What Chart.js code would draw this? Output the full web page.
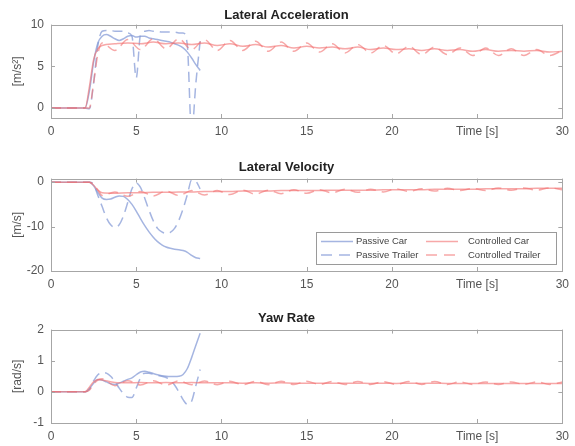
<!DOCTYPE html>
<html>
<head>
<meta charset="utf-8">
<script src="https://cdn.jsdelivr.net/npm/chart.js@4.4.0/dist/chart.umd.min.js"></script>
<style>
  body { margin: 0; background: #fff; }
  #page { position: relative; width: 575px; height: 446px; overflow: hidden; }
  canvas { position: absolute; left: 0; }
</style>
</head>
<body>
<div id="page">
  <canvas id="acc-chart" width="575" height="140" style="top:0px"></canvas>
  <canvas id="vel-chart" width="575" height="139" style="top:154px"></canvas>
  <canvas id="yaw-chart" width="575" height="140" style="top:305px"></canvas>
</div>
<script>
// Data
const xTickValues = [0, 5, 10, 15, 20, 25, 30];
const xTickLabels = ["0", "5", "10", "15", "20", "Time [s]", "30"];

const accTicks = [0, 5, 10];
const velTicks = [-20, -10, 0];
const yawTicks = [-1, 0, 1, 2];

const seriesNames = ["Passive Car", "Passive Trailer", "Controlled Car", "Controlled Trailer"];

// passive runs stop at ~8.7 s
const passiveTime = [0, 2, 2.25, 2.5, 2.75, 3, 3.25, 3.5, 3.75, 4, 4.25, 4.5, 4.75, 5, 5.25, 5.5, 5.75,
  6, 6.25, 6.5, 6.75, 7, 7.25, 7.5, 7.75, 8, 8.25, 8.5, 8.75];

const ctrlTime = [0, 2, 2.25, 2.5, 2.75, 3, 3.75, 4.5, 5.25, 6, 6.75, 7.5, 8.25, 9, 9.75, 10.5,
  11.25, 12, 12.75, 13.5, 14.25, 15, 15.75, 16.5, 17.25, 18, 18.75, 19.5, 20.25, 21, 21.75,
  22.5, 23.25, 24, 24.75, 25.5, 26.25, 27, 27.75, 28.5, 29.25, 30];

// lateral acceleration [m/s^2]
const accPassiveCar = [0, 0, 2.0, 5.5, 7.8, 8.6, 8.8, 8.6, 8.3, 8.1, 8.3, 8.6, 8.7, 8.5, 8.6, 8.6, 8.4,
  8.3, 8.2, 8.1, 8.0, 7.9, 7.7, 7.5, 7.2, 6.7, 6.0, 5.2, 4.5];
const accPassiveTrailer = [0, 0, -0.1, 3.0, 7.5, 9.2, 9.3, 9.3, 9.2, 9.2, 9.2, 9.0, 8.6, 3.6, 8.8, 9.2, 9.3,
  9.2, 9.2, 9.1, 9.1, 9.1, 9.1, 9.0, 9.0, 7.5, -3.0, 3.0, 8.0];
const accCtrlCar = [0, 0, 2.5, 5.8, 7.1, 7.5,
  7.7, 7.8, 7.7, 7.9, 7.7, 7.8, 7.6, 7.8, 7.5, 7.7,
  7.4, 7.6, 7.3, 7.5, 7.2, 7.4, 7.2, 7.3, 7.1, 7.3,
  7.0, 7.2, 7.0, 7.1, 6.9, 7.1, 6.9, 7.0, 6.8, 7.0,
  6.8, 6.9, 6.8, 6.9, 6.7, 6.8];
const accCtrlTrailer = [0, 0, 0, 3.0, 6.5, 7.8,
  6.9, 8.2, 7.0, 8.3, 7.1, 8.3, 7.0, 8.2, 6.9, 8.1,
  6.9, 8.0, 6.8, 7.9, 6.8, 7.8, 6.7, 7.7, 6.6, 7.6,
  6.6, 7.5, 6.5, 7.4, 6.4, 7.3, 6.4, 7.2, 6.3, 7.2,
  6.3, 7.1, 6.3, 7.0, 6.3, 6.9];

// lateral velocity [m/s]
const velPassiveCar = [0, 0, 0, -0.8, -2.3, -3.6, -3.9, -3.8, -3.4, -3.1, -3.2, -3.9, -5.0, -6.5, -8.2, -9.8, -11.2,
  -12.4, -13.4, -14.1, -14.6, -14.9, -15.1, -15.2, -15.4, -15.8, -16.5, -17.0, -17.2];
const velPassiveTrailer = [0, 0, 0, -0.5, -3.0, -5.5, -8.0, -9.6, -10.2, -9.6, -7.6, -4.6, -1.5, -0.2, -1.2, -3.6, -6.3,
  -8.7, -10.4, -11.2, -11.5, -11.3, -10.4, -8.6, -6.0, -2.8, 0.5, 0.2, -1.5];
const velCtrlCar = [0, 0, 0, -0.7, -1.8, -2.4,
  -2.5, -2.4, -2.4, -2.3, -2.3, -2.2, -2.2, -2.1, -2.1, -2.1,
  -2.0, -2.0, -2.0, -1.9, -1.9, -1.9, -1.9, -1.8, -1.8, -1.8,
  -1.8, -1.7, -1.7, -1.7, -1.7, -1.6, -1.6, -1.6, -1.6, -1.5,
  -1.5, -1.5, -1.5, -1.4, -1.4, -1.4];
const velCtrlTrailer = [0, 0, 0, -0.5, -1.8, -3.0,
  -2.2, -3.2, -2.1, -3.1, -2.0, -3.0, -1.9, -2.9, -1.9, -2.8,
  -1.8, -2.7, -1.8, -2.6, -1.7, -2.5, -1.7, -2.4, -1.6, -2.3,
  -1.6, -2.2, -1.5, -2.1, -1.5, -2.0, -1.4, -1.9, -1.4, -1.9,
  -1.3, -1.8, -1.3, -1.8, -1.3, -1.7];

// yaw rate [rad/s]
const yawPassiveCar = [0, 0, 0.1, 0.28, 0.4, 0.38, 0.32, 0.26, 0.24, 0.28, 0.34, 0.4, 0.45, 0.55, 0.64, 0.66, 0.63,
  0.59, 0.55, 0.52, 0.5, 0.49, 0.49, 0.5, 0.56, 0.75, 1.1, 1.5, 1.88];
const yawPassiveTrailer = [0, 0, 0.08, 0.35, 0.55, 0.62, 0.6, 0.5, 0.33, 0.12, -0.06, -0.17, -0.18, 0.12, 0.45, 0.6, 0.6,
  0.56, 0.53, 0.5, 0.46, 0.38, 0.22, 0.0, -0.25, -0.4, -0.3, 0.2, 0.72];
const yawCtrlCar = [0, 0, 0.15, 0.32, 0.4, 0.38,
  0.3, 0.29, 0.3, 0.29, 0.3, 0.29, 0.3, 0.29, 0.29, 0.29,
  0.28, 0.29, 0.28, 0.29, 0.28, 0.28, 0.28, 0.28, 0.28, 0.28,
  0.27, 0.28, 0.27, 0.28, 0.27, 0.28, 0.27, 0.27, 0.27, 0.27,
  0.27, 0.27, 0.27, 0.27, 0.27, 0.27];
const yawCtrlTrailer = [0, 0, 0.05, 0.25, 0.38, 0.42,
  0.2, 0.36, 0.22, 0.36, 0.22, 0.35, 0.23, 0.35, 0.23, 0.34,
  0.23, 0.34, 0.23, 0.34, 0.24, 0.34, 0.24, 0.33, 0.24, 0.33,
  0.24, 0.33, 0.24, 0.33, 0.24, 0.33, 0.24, 0.32, 0.24, 0.32,
  0.24, 0.32, 0.24, 0.32, 0.24, 0.32];

// Styles
const fontFamily = "'Liberation Sans', Arial, Helvetica, sans-serif";
const blue = "rgba(130, 152, 214, 0.72)";
const red = "rgba(242, 115, 115, 0.62)";
const dash = [10, 6];
const seriesColors = [blue, blue, red, red];
const seriesDashes = [[], dash, [], dash];

function makePoints(times, values) {
  return values.map((v, i) => ({ x: times[i], y: v }));
}

function makeDatasets(passiveCar, passiveTrailer, ctrlCar, ctrlTrailer) {
  const sources = [
    makePoints(passiveTime, passiveCar),
    makePoints(passiveTime, passiveTrailer),
    makePoints(ctrlTime, ctrlCar),
    makePoints(ctrlTime, ctrlTrailer)
  ];
  return sources.map((data, i) => ({
    label: seriesNames[i],
    data: data,
    borderColor: seriesColors[i],
    borderDash: seriesDashes[i],
    borderWidth: 1.5,
    pointRadius: 0,
    fill: false,
    cubicInterpolationMode: "monotone",
    order: i < 2 ? 2 : 1
  }));
}

// box around the axes with inward tick marks (matlab look)
const axesBoxPlugin = {
  id: "axesBox",
  afterDatasetsDraw(chart) {
    const { ctx, chartArea: a, scales } = chart;
    const tick = 4;
    ctx.save();
    ctx.strokeStyle = "#a6a6a6";
    ctx.lineWidth = 1;
    ctx.setLineDash([]);
    ctx.beginPath();
    scales.x.ticks.forEach(t => {
      const x = Math.round(scales.x.getPixelForValue(t.value)) + 0.5;
      ctx.moveTo(x, a.bottom); ctx.lineTo(x, a.bottom - tick);
      ctx.moveTo(x, a.top); ctx.lineTo(x, a.top + tick);
    });
    scales.y.ticks.forEach(t => {
      const y = Math.round(scales.y.getPixelForValue(t.value)) + 0.5;
      ctx.moveTo(a.left, y); ctx.lineTo(a.left + tick, y);
      ctx.moveTo(a.right, y); ctx.lineTo(a.right - tick, y);
    });
    ctx.stroke();
    ctx.strokeRect(Math.round(a.left) + 0.5, Math.round(a.top) + 0.5,
      Math.round(a.right - a.left), Math.round(a.bottom - a.top));
    ctx.restore();
  }
};

// legend box inside the lower right of the velocity plot
const insideLegendPlugin = {
  id: "insideLegend",
  afterDatasetsDraw(chart) {
    const { ctx, chartArea: a } = chart;
    const left = Math.round(a.right) - 246, top = Math.round(a.bottom) - 39;
    const w = 240, h = 32;
    const cols = [{ line: 5, text: 40 }, { line: 110, text: 152 }];
    const rows = [9.5, 23];
    ctx.save();
    ctx.fillStyle = "#fff";
    ctx.fillRect(left, top, w, h);
    ctx.strokeStyle = "#9a9a9a";
    ctx.lineWidth = 1;
    ctx.strokeRect(left + 0.5, top + 0.5, w, h);
    ctx.font = "9.5px " + fontFamily;
    ctx.textBaseline = "middle";
    ctx.fillStyle = "#444";
    seriesNames.forEach((name, i) => {
      const col = cols[Math.floor(i / 2)];
      const y = top + rows[i % 2];
      ctx.beginPath();
      ctx.strokeStyle = seriesColors[i];
      ctx.lineWidth = 1.5;
      ctx.setLineDash(seriesDashes[i].length ? [11, 7] : []);
      ctx.moveTo(left + col.line, y);
      ctx.lineTo(left + col.line + 32, y);
      ctx.stroke();
      ctx.fillText(name, left + col.text, y);
    });
    ctx.restore();
  }
};

function createPanel(canvasId, title, titlePadding, yTitle, yMin, yMax, yTicks, datasets, extraPlugins) {
  return new Chart(document.getElementById(canvasId), {
    type: "line",
    data: { datasets: datasets },
    plugins: [axesBoxPlugin, ...extraPlugins],
    options: {
      responsive: false,
      animation: false,
      devicePixelRatio: 1,
      layout: { padding: { left: 4, right: 6, top: 0, bottom: 0 } },
      plugins: {
        legend: { display: false },
        tooltip: { enabled: false },
        title: {
          display: true,
          text: title,
          color: "#222",
          font: { family: fontFamily, size: 13, weight: "bold" },
          padding: titlePadding
        }
      },
      scales: {
        x: {
          type: "linear",
          min: 0,
          max: 30,
          grid: { display: false, drawTicks: false },
          border: { display: false },
          afterBuildTicks: scale => { scale.ticks = xTickValues.map(v => ({ value: v })); },
          afterFit: scale => { scale.height = 22; },
          ticks: {
            autoSkip: false,
            maxRotation: 0,
            padding: 6,
            color: "#555",
            font: { family: fontFamily, size: 12 },
            callback: (value, index) => xTickLabels[index]
          }
        },
        y: {
          min: yMin,
          max: yMax,
          grid: { display: false, drawTicks: false },
          border: { display: false },
          afterBuildTicks: scale => { scale.ticks = yTicks.map(v => ({ value: v })); },
          afterFit: scale => { scale.width = 47; },
          ticks: {
            padding: 7,
            color: "#555",
            font: { family: fontFamily, size: 12 },
          },
          title: {
            display: true,
            text: yTitle,
            color: "#555",
            font: { family: fontFamily, size: 12 },
            padding: { top: 6, bottom: 0 }
          }
        }
      }
    }
  });
}

createPanel("acc-chart", "Lateral Acceleration", { top: 8, bottom: 1 }, "[m/s\u00b2]", -1.2, 10, accTicks,
  makeDatasets(accPassiveCar, accPassiveTrailer, accCtrlCar, accCtrlTrailer), []);

createPanel("vel-chart", "Lateral Velocity", { top: 6, bottom: 3 }, "[m/s]", -20, 0.8, velTicks,
  makeDatasets(velPassiveCar, velPassiveTrailer, velCtrlCar, velCtrlTrailer), [insideLegendPlugin]);

createPanel("yaw-chart", "Yaw Rate", { top: 6, bottom: 3 }, "[rad/s]", -1, 2, yawTicks,
  makeDatasets(yawPassiveCar, yawPassiveTrailer, yawCtrlCar, yawCtrlTrailer), []);
</script>
</body>
</html>
